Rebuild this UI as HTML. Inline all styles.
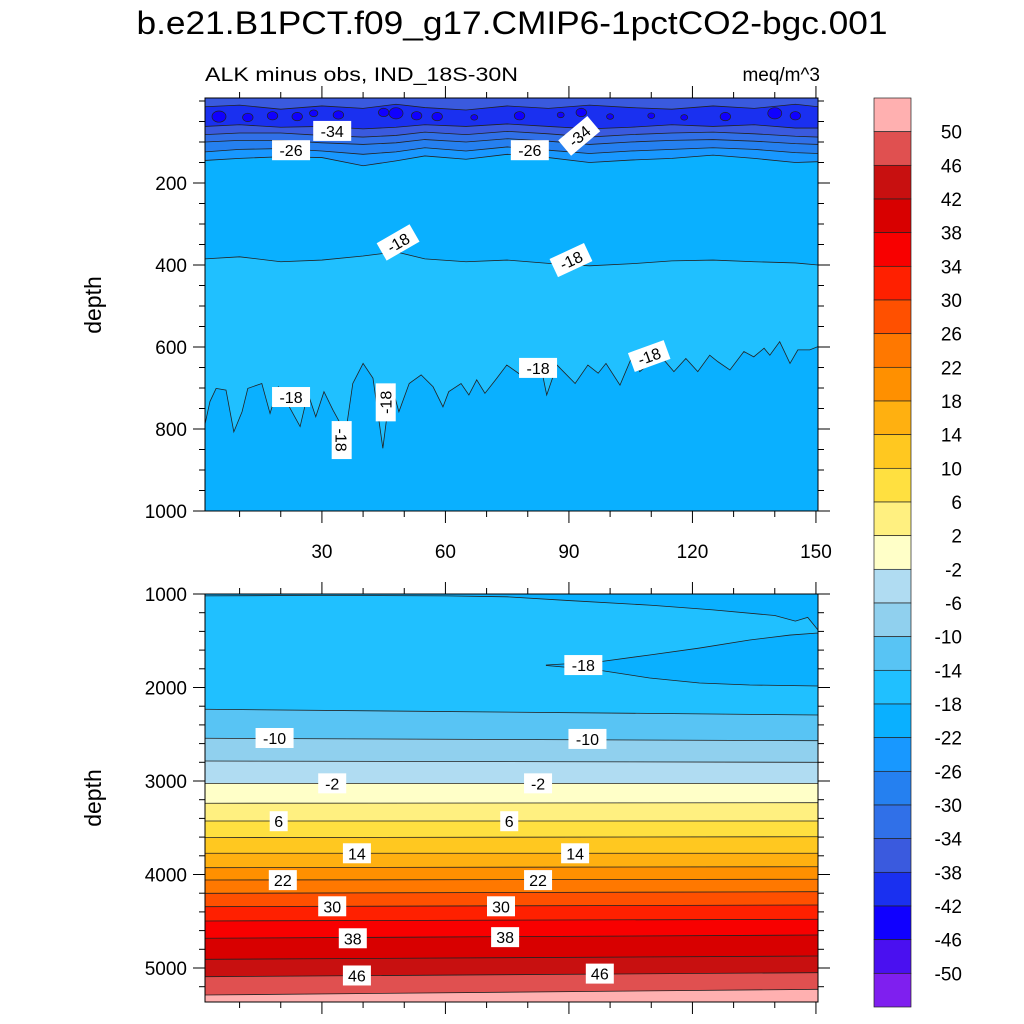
<!DOCTYPE html>
<html><head><meta charset="utf-8"><style>
body{margin:0;background:#fff;}
svg{display:block;font-family:"Liberation Sans",sans-serif;}
</style></head><body>
<svg id="chart" width="1024" height="1024" viewBox="0 0 1024 1024" xmlns="http://www.w3.org/2000/svg">
<text x="512" y="34" font-size="32" text-anchor="middle" textLength="751" lengthAdjust="spacingAndGlyphs">b.e21.B1PCT.f09_g17.CMIP6-1pctCO2-bgc.001</text>
<text x="205" y="81" font-size="19" textLength="313" lengthAdjust="spacingAndGlyphs">ALK minus obs, IND_18S-30N</text>
<text x="820" y="81" font-size="19" text-anchor="end">meq/m^3</text>
<text transform="translate(101,305) rotate(-90)" font-size="23" text-anchor="middle">depth</text>
<text transform="translate(101,798) rotate(-90)" font-size="23" text-anchor="middle">depth</text>
<g id="top"></g><g id="bot"></g><g id="cbar"></g>
</svg>
<script>
// ---- data ----
const levels = [-50,-46,-42,-38,-34,-30,-26,-22,-18,-14,-10,-6,-2,2,6,10,14,18,22,26,30,34,38,42,46,50];
const levelColors = ['#7f1fef','#4a10f0','#1000ff','#1a30f0','#3a5ade','#3070e8','#2580f0','#1898ff','#0ab0ff','#20c0ff','#58c4f4','#90d0ee','#b0dcf2','#ffffc8','#fff080','#ffe040','#ffc820','#ffb010','#ff9000','#ff7800','#ff5000','#ff2000','#f80000','#d80000','#c81010','#e05050','#ffb0b0'];
const xTicks = [30,60,90,120,150];
const topDepthTicks = [200,400,600,800,1000];
const botDepthTicks = [1000,2000,3000,4000,5000];
const c18x = [1.3,2.8,4.3,6.7,8.6,10.6,12.0,15.4,17.4,19.4,24.7,26.6,28.5,30.5,32.7,35.1,36.1,37.5,40.0,42.4,44.8,46.8,48.7,51.2,54.1,57.0,59.4,60.8,63.8,65.7,67.6,69.6,72.5,74.9,78.3,80.3,83.2,84.6,87.1,91.5,94.6,97.1,99.0,102.4,105.3,107.2,112.1,115.5,118.4,121.3,124.2,126.2,129.1,132.5,134.9,137.4,138.8,141.2,143.7,145.6,148.5,150.5];
const c18d = [802,733,701,705,807,758,701,689,762,697,794,713,770,709,754,798,786,689,640,676,847,689,758,689,668,697,746,709,689,717,680,713,676,644,668,672,648,717,644,689,644,664,640,693,624,660,620,660,628,660,620,636,656,611,624,603,620,587,640,607,607,599];
const upX = [1.6,10,20,30,40,48,55,65,75,85,95,105,115,125,135,145,150.5];
const up18d = [385,380,392,388,378,368,385,392,388,396,402,397,390,388,392,395,400];
const c22d = [145,140,136,138,158,146,134,142,130,138,150,144,140,132,140,150,148];
const c26d = [124,118,116,122,130,124,114,122,112,120,128,122,118,114,118,126,128];
const c30d = [100,96,96,102,106,102,94,100,92,98,106,100,96,94,98,104,106];
const c34d = [82,78,78,84,88,84,76,82,74,80,88,82,78,76,80,86,88];
const c38d = [62,58,64,62,68,64,58,62,56,62,68,64,58,62,58,66,66];
const c42top = [14,10,20,12,18,8,16,22,12,18,10,16,20,12,18,8,14];
const blobX = [5,12,18,24,28,34,45,48,53,58,67,78,88,93,100,110,118,128,140,145];
const blobD = [38,40,36,38,30,34,28,30,36,38,40,36,34,28,38,36,40,38,30,36];
const blobR = [2,1.5,1.5,1.5,1.2,1.5,1.5,2,1.5,1.5,1,1.5,1,1.5,1,1,1,1.5,2,1.5];
const botLevels = [-14,-10,-6,-2,2,6,10,14,18,22,26,30,34,38,42,46,50];
const botLeftD = [2233,2543,2786,3025,3238,3428,3606,3773,3927,4059,4201,4344,4497,4682,4907,5093,5289];
const botRightD = [2294,2569,2800,3025,3232,3428,3596,3773,3917,4051,4184,4326,4479,4647,4872,5050,5228];
const stripX = [1.6,30,60,75,90,110,125,140,145,148,150.5];
const stripD = [1020,1015,1020,1030,1070,1120,1170,1230,1290,1250,1385];
const wedgeUX = [84.5,97,109.6,121.7,133.9,143.7,150.5];
const wedgeUD = [1759,1727,1652,1578,1492,1439,1417];
const wedgeLX = [84.5,97,109.6,121.7,133.9,150.5];
const wedgeLD = [1765,1813,1898,1952,1973,1984];
const topLabels = [['-34',32.5,73,0],['-26',22.5,120,0],['-26',80.5,120,0],['-34',92.5,85,-40],['-18',48.5,345,-30],['-18',90.5,388,-25],['-18',22.5,722,0],['-18',34.8,827,90],['-18',45.5,735,-90],['-18',82.5,651,0],['-18',109.5,622,-20]];
const botLabels = [['-18',93.5,1760,0],['-10',18.5,2540,0],['-10',94.5,2550,0],['-2',32.5,3025,0],['-2',82.5,3025,0],['6',19.5,3430,0],['6',75.5,3430,0],['14',38.5,3773,0],['14',91.5,3773,0],['22',20.5,4060,0],['22',82.5,4060,0],['30',32.5,4340,0],['30',73.5,4340,0],['38',37.5,4682,0],['38',74.5,4670,0],['46',38.5,5080,0],['46',97.5,5060,0]];

// ---- drawing ----
const NS='http://www.w3.org/2000/svg';
function mk(tag,attrs,parent){const e=document.createElementNS(NS,tag);for(const k in attrs)e.setAttribute(k,attrs[k]);parent.appendChild(e);return e;}
const X0=205,X1=818,XMIN=1.6,XMAX=150.5;
const xs=v=>X0+(v-XMIN)/(XMAX-XMIN)*(X1-X0);
const topY=d=>101+d*0.41, TY0=98, TY1=511;
const botY=d=>594+(d-1000)*0.0935, BY0=594, BY1=1002;
const colorOf=v=>{let i=0;while(i<levels.length&&v>levels[i])i++;return levelColors[i];};
function above(xArr,dArr,yf,y0,fill,g,name){
  let p=`M${X0},${y0} L${X0},${yf(dArr[0])} `;
  xArr.forEach((x,i)=>p+=`L${xs(x)},${yf(dArr[i])} `);
  p+=`L${X1},${yf(dArr[dArr.length-1])} L${X1},${y0} Z`;
  const e=mk('path',{d:p,fill:fill},g);
  
  
  let l=`M${X0},${yf(dArr[0])} `;xArr.forEach((x,i)=>l+=`L${xs(x)},${yf(dArr[i])} `);l+=`L${X1},${yf(dArr[dArr.length-1])}`;
  const c=mk('path',{d:l,fill:'none',stroke:'#222','stroke-width':0.8},g);
  
  
}
function axes(g,yf,y0,y1,majors,minorStep,dmin,dmax,xlabels,name){
  const fr=mk('rect',{x:X0,y:y0,width:X1-X0,height:y1-y0,fill:'none',stroke:'#000','stroke-width':1},g);
  
  
  for(let v=10;v<=150;v+=10){const maj=v%30===0,L=maj?12:6;
    mk('line',{x1:xs(v),x2:xs(v),y1:y1,y2:y1+L,stroke:'#000'},g);
    mk('line',{x1:xs(v),x2:xs(v),y1:y0,y2:y0-L,stroke:'#000'},g);}
  for(let d=Math.ceil(dmin/minorStep)*minorStep;d<=dmax;d+=minorStep){const maj=majors.includes(d),L=maj?12:6,y=yf(d);
    if(y<y0-0.5||y>y1+0.5)continue;
    mk('line',{x1:X0,x2:X0-L,y1:y,y2:y,stroke:'#000'},g);
    mk('line',{x1:X1,x2:X1+L,y1:y,y2:y,stroke:'#000'},g);}
  majors.forEach(d=>{const t=mk('text',{x:X0-18,y:yf(d)+7,'font-size':19,'text-anchor':'end'},g);t.textContent=d;
    
    });
  if(xlabels)xTicks.forEach(v=>{const t=mk('text',{x:xs(v),y:y1+47,'font-size':19,'text-anchor':'middle'},g);t.textContent=v;
    
    });
}
function label(g,yf,L){
  const [s,x,d,a]=L;const w=s.length*10+8;
  const gg=mk('g',{transform:`translate(${xs(x)},${yf(d)}) rotate(${a})`},g);
  
  
  mk('rect',{x:-w/2,y:-10,width:w,height:20,fill:'#fff'},gg);
  const t=mk('text',{x:0,y:6,'font-size':16,'text-anchor':'middle'},gg);t.textContent=s;
}
const T=document.getElementById('top');

const ct=mk('clipPath',{id:'ct'},T);mk('rect',{x:X0,y:TY0,width:X1-X0,height:TY1-TY0},ct);
const TG=mk('g',{'clip-path':'url(#ct)'},T);
mk('rect',{x:X0,y:TY0,width:X1-X0,height:TY1-TY0,fill:colorOf(-20)},TG);
above(c18x,c18d,topY,TY0,colorOf(-16),TG,'contour-lower-18');
above(upX,up18d,topY,TY0,colorOf(-20),TG,'contour-upper-18');
above(upX,c22d,topY,TY0,colorOf(-24),TG,'contour-22');
above(upX,c26d,topY,TY0,colorOf(-28),TG,'contour-26');
above(upX,c30d,topY,TY0,colorOf(-32),TG,'contour-30');
above(upX,c34d,topY,TY0,colorOf(-36),TG,'contour-34');
above(upX,c38d,topY,TY0,colorOf(-40),TG,'contour-38');
above(upX,c42top,topY,TY0,colorOf(-36),TG,'contour-38-top');
blobX.forEach((x,i)=>{const e=mk('ellipse',{cx:xs(x),cy:topY(blobD[i]),rx:blobR[i]*3.5,ry:blobR[i]*2.8,fill:colorOf(-44),stroke:'#222','stroke-width':0.7},TG);
  
  });
topLabels.forEach(L=>label(T,topY,L));
axes(T,topY,TY0,TY1,topDepthTicks,50,0,1000,true,'top-axes');
const B=document.getElementById('bot');

const cp=mk('clipPath',{id:'cb'},B);mk('rect',{x:X0,y:BY0,width:X1-X0,height:BY1-BY0},cp);
const BG=mk('g',{'clip-path':'url(#cb)'},B);
mk('rect',{x:X0,y:BY0,width:X1-X0,height:BY1-BY0,fill:colorOf(52)},BG);
for(let i=botLevels.length-1;i>=0;i--){
  above([XMIN,XMAX],[botLeftD[i],botRightD[i]],botY,BY0,colorOf(botLevels[i]-2),BG,'contour-'+botLevels[i]);
}
above(stripX,stripD,botY,BY0,colorOf(-20),BG,'contour-18-top-strip');
{let p='';wedgeUX.forEach((x,i)=>p+=(i?'L':'M')+xs(x)+','+botY(wedgeUD[i])+' ');
 for(let i=wedgeLX.length-1;i>=0;i--)p+='L'+xs(wedgeLX[i])+','+botY(wedgeLD[i])+' ';
 const w=mk('path',{d:p+'Z',fill:colorOf(-20),stroke:'#222','stroke-width':0.8},BG);
 
 }
botLabels.forEach(L=>label(B,botY,L));
axes(B,botY,BY0,BY1,botDepthTicks,200,1000,5400,false,'bottom-axes');
const C=document.getElementById('cbar');

const CB0=98,CB1=1007,n=levelColors.length,h=(CB1-CB0)/n;
levelColors.slice().reverse().forEach((c,i)=>{const r=mk('rect',{x:874,y:CB0+i*h,width:37,height:h,fill:c,stroke:'#222','stroke-width':0.7},C);
  
  });
levels.slice().reverse().forEach((v,i)=>{const t=mk('text',{x:962,y:CB0+(i+1)*h+7,'font-size':19,'text-anchor':'end'},C);t.textContent=v;
  
  });
</script>
</body></html>
